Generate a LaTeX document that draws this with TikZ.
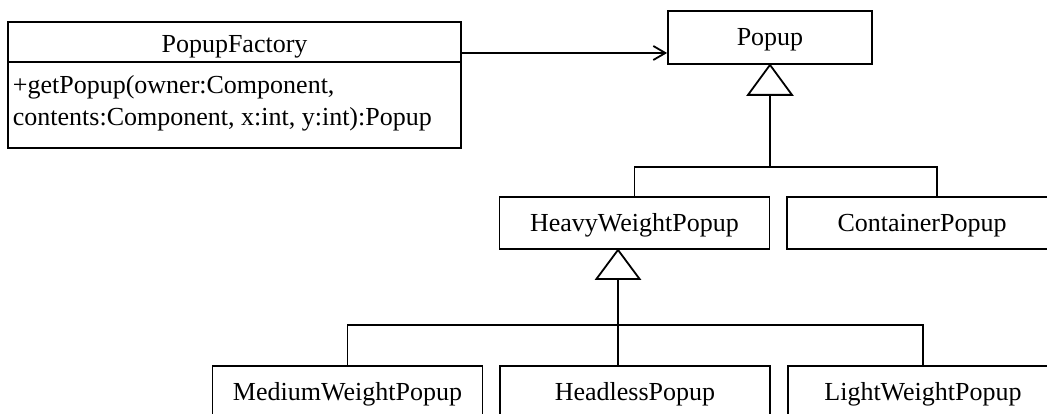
\documentclass[tikz,border=0pt]{standalone}
\usepackage{fontspec}
\setmainfont{Liberation Serif}
\usetikzlibrary{arrows.meta}
\begin{document}
\begin{tikzpicture}[x=1pt,y=-1pt,
  line width=1.8pt,
  umlfont/.style={font=\fontsize{26}{32}\selectfont},
  cls/.style={draw, fill=white, inner sep=0pt, minimum width=270pt,
    minimum height=52pt, text height=17pt, text depth=0pt, umlfont},
  lbl/.style={inner sep=0pt, umlfont},
  assoc/.style={-{Straight Barb[length=12pt,width=14pt]}},
  gentri/.style={draw, fill=white, line join=miter},
]
\fill[white] (0,0) rectangle (1047,414);
\useasboundingbox (0,0) rectangle (1047,414);

% --- factory class with its operation compartment ---
\node[draw, inner sep=0pt, minimum width=453pt, minimum height=126pt] (factory) at (234.5,85) {};
\coordinate (sep) at (0,62);
\draw (factory.west |- sep) -- (factory.east |- sep);
\node[lbl, anchor=base] (ftitle) at (234.5,53) {PopupFactory};
\node[lbl, anchor=base west] (fop1) at (12,94) {+getPopup(owner:Component,};
\node[lbl, anchor=base west] (fop2) at (12,126) {contents:Component, x:int, y:int):Popup};

% --- class boxes ---
\node[cls, minimum width=204pt, minimum height=53pt] (popup) at (770,37.5) {Popup};
\node[cls] (heavy) at (634.5,223) {HeavyWeightPopup};
\node[cls] (container) at (922,223) {ContainerPopup};
\node[cls] (medium) at (347.5,392) {MediumWeightPopup};
\node[cls] (headless) at (635,392) {HeadlessPopup};
\node[cls] (light) at (923,392) {LightWeightPopup};

% --- association: factory creates popups ---
\coordinate (arow) at (0,53);
\draw[assoc] (arow -| factory.east) -- (arow -| popup.west);

% --- generalization tree under Popup ---
\coordinate (pbase) at ([yshift=-30pt]popup.south);
\coordinate (pbus) at (0,167);
\coordinate (cpin) at ([xshift=15pt]container.north);
\draw (pbase) -- (pbase |- pbus);
\draw (heavy.north) -- (heavy.north |- pbus) -- (cpin |- pbus) -- (cpin);
\draw[gentri] (popup.south) -- ++(-22,30) -- ++(44,0) -- cycle;

% --- generalization tree under HeavyWeightPopup ---
\coordinate (htip) at ([xshift=-16.5pt]heavy.south);
\coordinate (hbase) at ([yshift=-29pt]htip);
\coordinate (hbus) at (0,325);
\draw (hbase) -- (hbase |- headless.north);
\draw (medium.north) -- (medium.north |- hbus) -- (light.north |- hbus) -- (light.north);
\draw[gentri] (htip) -- ++(-21.5,29) -- ++(43,0) -- cycle;
\end{tikzpicture}
\end{document}
